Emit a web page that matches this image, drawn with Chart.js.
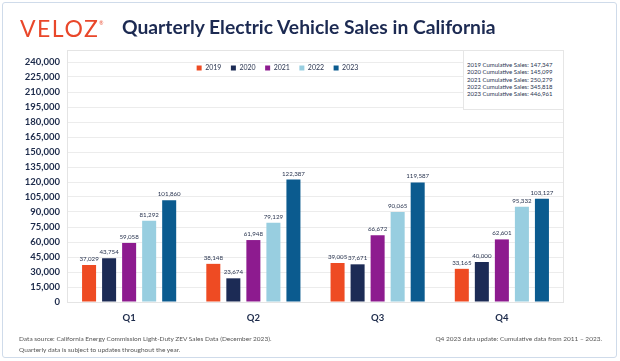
<!DOCTYPE html>
<html>
<head>
<meta charset="utf-8">
<script src="https://cdn.jsdelivr.net/npm/chart.js@4"></script>
<style>
  html, body { margin: 0; padding: 0; background: #fff; }
  body { font-family: Lato, "Open Sans", sans-serif; }
  #page { position: relative; width: 620px; height: 361px; overflow: hidden; }
  #frame { position: absolute; left: 2px; top: 2px; width: 613px; height: 354px; border: 1px solid #cfdbea; border-radius: 3px; }
  #chart-wrap { position: absolute; left: 0; top: 0; width: 620px; height: 361px; }
  #logo { position: absolute; left: 20px; top: 14px; font-size: 23px; color: #e9472a; letter-spacing: 1.5px; font-weight: 400; }
  #logo sup { font-size: 5px; vertical-align: top; position: relative; top: 6px; letter-spacing: 0; }
  #title { position: absolute; left: 122px; top: 15px; font-size: 19.3px; font-weight: 700; color: #1c2a52; }
  #cumbox { position: absolute; left: 463px; top: 50px; width: 101px; height: 60px; background: #fff; border: 1px solid #e6e6e6; box-sizing: border-box; padding: 10px 0 0 3px; font-size: 6px; line-height: 7.3px; color: #2a3550; }
  .foot { position: absolute; font-size: 6.5px; color: #555; line-height: 11px; }
</style>
</head>
<body>
<div id="page">
  <div id="frame"></div>
  <div id="chart-wrap"><canvas id="evChart"></canvas></div>
  <div id="logo">VELOZ<sup>®</sup></div>
  <div id="title">Quarterly Electric Vehicle Sales in California</div>
  <div id="cumbox"></div>
  <div class="foot" style="left:19px; top:333px;">Data source: California Energy Commission Light-Duty ZEV Sales Data (December 2023).<br>Quarterly data is subject to updates throughout the year.</div>
  <div class="foot" style="right:18px; top:333px;">Q4 2023 data update: Cumulative data from 2011 – 2023.</div>
</div>
<script>
const quarters = ['Q1', 'Q2', 'Q3', 'Q4'];
const years = ['2019', '2020', '2021', '2022', '2023'];
const sales2019 = [37029, 38148, 39005, 33165];
const sales2020 = [43754, 23674, 37671, 40000];
const sales2021 = [59058, 61948, 66672, 62601];
const sales2022 = [81292, 79129, 90065, 95332];
const sales2023 = [101860, 122387, 119587, 103127];
const cumulative = [147347, 145099, 250279, 345818, 446961];
const yTicks = [0, 15000, 30000, 45000, 60000, 75000, 90000, 105000, 120000, 135000, 150000, 165000, 180000, 195000, 210000, 225000, 240000];

const colors = ['#ee4b23', '#1c2b55', '#8d1b8f', '#98cee0', '#0b5b8f'];
const fmt = v => v.toLocaleString('en-US');

document.getElementById('cumbox').innerHTML = years
    .map((y, i) => `${y} Cumulative Sales: ${fmt(cumulative[i])}`)
    .join('<br>');

// value labels above each bar
const barLabels = {
    id: 'barLabels',
    afterDatasetsDraw(chart) {
        const ctx = chart.ctx;
        ctx.save();
        ctx.font = '6.2px Lato';
        ctx.fillStyle = '#2a3550';
        ctx.textAlign = 'center';
        ctx.textBaseline = 'bottom';
        chart.data.datasets.forEach((ds, i) => {
            chart.getDatasetMeta(i).data.forEach((bar, j) => {
                ctx.fillText(fmt(ds.data[j]), bar.x, bar.y - 3);
            });
        });
        ctx.restore();
    }
};

// light box round the plot; the legend takes no room and sits inside the plot
const plotBox = {
    id: 'plotBox',
    beforeLayout(chart) {
        const lg = chart.legend;
        if (lg && !lg._flat) {
            const fit = lg.fit.bind(lg);
            lg.fit = function () { fit(); this.height = 0; };
            lg._flat = true;
        }
    },
    afterLayout(chart) {
        const a = chart.chartArea;
        const lg = chart.legend;
        lg.left = a.left;
        lg.right = a.right - 76;
        lg.width = lg.right - lg.left;
        lg.top = a.top + 5;
        lg.height = 20;
        lg.bottom = lg.top + lg.height;
    },
    beforeDatasetsDraw(chart) {
        const a = chart.chartArea;
        const ctx = chart.ctx;
        ctx.save();
        ctx.strokeStyle = '#e4e4e4';
        ctx.lineWidth = 1;
        ctx.strokeRect(a.left + 0.5, a.top + 0.5, a.right - a.left - 1, a.bottom - a.top);
        ctx.restore();
    }
};

const seriesData = [sales2019, sales2020, sales2021, sales2022, sales2023];

new Chart(document.getElementById('evChart'), {
    type: 'bar',
    data: {
        labels: quarters,
        datasets: years.map((y, i) => ({
            label: y,
            data: seriesData[i],
            backgroundColor: colors[i],
            categoryPercentage: 0.806,
            barPercentage: 0.7
        }))
    },
    options: {
        responsive: true,
        maintainAspectRatio: false,
        animation: false,
        layout: { padding: { left: 0, top: 50, right: 56, bottom: 29 } },
        plugins: {
            legend: {
                position: 'top',
                align: 'center',
                labels: {
                    boxWidth: 5,
                    boxHeight: 5,
                    padding: 9.5,
                    color: '#2a3550',
                    font: { family: 'Lato', size: 7 }
                }
            },
            tooltip: { enabled: false }
        },
        scales: {
            x: {
                grid: { display: false },
                border: { display: false },
                afterFit: s => { s.height = 30; },
                ticks: { color: '#1c2a4a', padding: 2, font: { family: 'Lato', size: 9.5, weight: 'bold' } }
            },
            y: {
                min: 0,
                max: 252000,
                afterBuildTicks: s => { s.ticks = yTicks.map(v => ({ value: v })); },
                afterFit: s => { s.width = 67; },
                grid: { color: '#ececec', drawTicks: false },
                border: { display: false },
                ticks: {
                    color: '#1c2a4a',
                    padding: 7,
                    font: { family: 'Lato', size: 9.5, weight: 'bold' },
                    callback: v => fmt(v)
                }
            }
        }
    },
    plugins: [barLabels, plotBox]
});
</script>
</body>
</html>
